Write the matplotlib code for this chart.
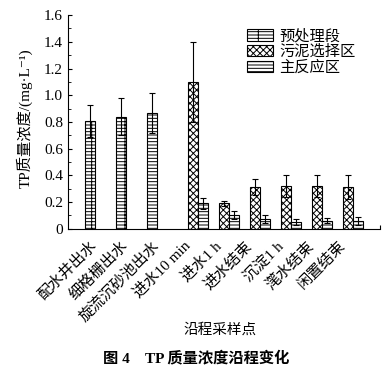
import numpy as np
import matplotlib
matplotlib.use('Agg')
import matplotlib.pyplot as plt
from matplotlib.ticker import MultipleLocator, FuncFormatter

plt.rcParams['font.family'] = ['Liberation Serif', 'Noto Sans CJK SC', 'DejaVu Sans']
plt.rcParams['hatch.linewidth'] = 0.7

# sampling points along the process
categories = ['配水井出水', '细格栅出水', '旋流沉砂池出水', '进水10 min', '进水1 h',
              '进水结束', '沉淀1 h', '滗水结束', '闲置结束']
series_names = ['预处理段', '污泥选择区', '主反应区']

# TP (mg/L), nan = not sampled
pre_mean = [0.81, 0.84, 0.87, np.nan, np.nan, np.nan, np.nan, np.nan, np.nan]
pre_err = [0.12, 0.14, 0.15, np.nan, np.nan, np.nan, np.nan, np.nan, np.nan]
sel_mean = [np.nan, np.nan, np.nan, 1.10, 0.19, 0.31, 0.32, 0.32, 0.31]
sel_err = [np.nan, np.nan, np.nan, 0.30, 0.02, 0.06, 0.08, 0.08, 0.09]
main_mean = [np.nan, np.nan, np.nan, 0.19, 0.10, 0.07, 0.05, 0.06, 0.06]
main_err = [np.nan, np.nan, np.nan, 0.04, 0.03, 0.03, 0.02, 0.02, 0.03]

fig = plt.figure(figsize=(3.92, 3.77), dpi=100)
ax = fig.add_axes([0.173, 0.393, 0.796, 0.567])

x = np.arange(len(categories))
w = 0.32
hatches = ['-----|', 'xxxxx', '-----']
data = [(pre_mean, pre_err), (sel_mean, sel_err), (main_mean, main_err)]
for k, (m, e) in enumerate(data):
    ax.bar(x + (k - 1) * w, m, w, yerr=e, color='white', edgecolor='black',
           linewidth=0.8, hatch=hatches[k], label=series_names[k],
           error_kw=dict(ecolor='black', elinewidth=0.8, capsize=2.5, capthick=0.8))

ax.set_xlim(-1.03, 9.03)
ax.set_ylim(0, 1.6)
ax.yaxis.set_major_locator(MultipleLocator(0.2))
ax.yaxis.set_minor_locator(MultipleLocator(0.1))
ax.yaxis.set_major_formatter(FuncFormatter(lambda v, p: '0' if abs(v) < 1e-9 else '%.1f' % v))
ax.tick_params(axis='y', direction='in', labelsize=11, length=3, width=0.8)
ax.tick_params(axis='y', which='minor', direction='in', length=2, width=0.6)
ax.set_xticks(x)
ax.set_xticklabels(categories, rotation=45, ha='right', fontsize=11)
ax.tick_params(axis='x', length=0, pad=7)
ax.set_xticks([9.03], minor=True)
ax.tick_params(axis='x', which='minor', direction='in', length=3, width=0.8)

for s in ['top', 'right']:
    ax.spines[s].set_visible(False)
ax.spines['left'].set_linewidth(0.8)
ax.spines['bottom'].set_linewidth(0.8)

ax.legend(loc='upper left', bbox_to_anchor=(0.555, 0.965), frameon=False, fontsize=11,
          handlelength=1.7, handleheight=0.8, handletextpad=0.4, labelspacing=0.1,
          borderaxespad=0)

fig.text(25 / 392, 1 - 118 / 377, 'TP质量浓度/(mg·L⁻¹)', rotation=90,
         ha='center', va='center', fontsize=11)
fig.text(220 / 392, 1 - 330 / 377, '沿程采样点', ha='center', va='center', fontsize=10.5)
fig.text(196 / 392, 1 - 358 / 377, '图 4    TP 质量浓度沿程变化', ha='center', va='center',
         fontsize=11, fontweight='bold')

fig.savefig('out.png', dpi=100)
